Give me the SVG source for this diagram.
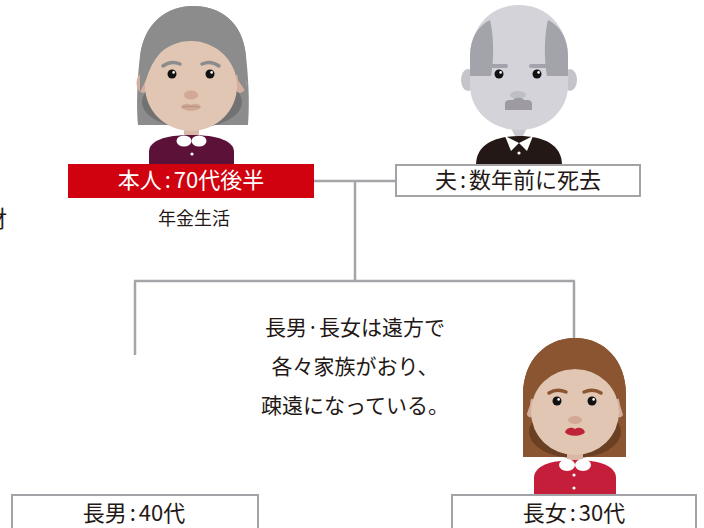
<svg xmlns="http://www.w3.org/2000/svg" width="704" height="528" viewBox="0 0 704 528">
  <style>
    .txt { font-family: "Noto Sans CJK JP", "Noto Sans", sans-serif; fill: #231815; }
    .lbl { font-size: 22px; text-anchor: middle; }
    .note { font-size: 21px; text-anchor: middle; }
    .box { fill: #ffffff; stroke: #a2a2a7; stroke-width: 2; }
    .link { fill: none; stroke: #a4a4a9; stroke-width: 2.5; }
    .eye { fill: #111111; }
    .hl { fill: #ffffff; }
    .skin { fill: #e0c6b3; }
    .ear { fill: #d4ae9e; }
    .nose { fill: #d3a896; }
    .white { fill: #ffffff; }
  </style>

  <!-- partially visible character at the left edge -->
  <text class="txt" x="-16" y="227" font-size="23">財</text>

  <!-- connectors -->
  <g id="connectors">
    <path class="link" d="M314,181 H396"/>
    <path class="link" d="M355,181 V281"/>
    <path class="link" d="M134,281 H575"/>
    <path class="link" d="M135,281 V355"/>
    <path class="link" d="M574,281 V495"/>
  </g>

  <!-- self: grandmother -->
  <g id="self">
    <path d="M138,125 C136,100 138,72 140,56 C145,22 168,6 193,6 C220,6 243,22 246,56 C248,75 250,100 248,125 Z" fill="#8c8c8c"/>
    <ellipse cx="192" cy="102" rx="50" ry="26" fill="#727272"/>
    <ellipse class="ear" cx="143" cy="83" rx="6.5" ry="10"/>
    <ellipse class="ear" cx="240" cy="83" rx="6.5" ry="10"/>
    <rect x="184" y="122" width="15" height="18" fill="#d9b8a5"/>
    <ellipse class="skin" cx="191" cy="86" rx="46" ry="45"/>
    <path d="M140,92 L140,58 C143,22 168,6 193,6 C220,6 244,22 246,58 L246,92 L238,80 C236,56 222,38 200,33 C192,32 186,34 180,38 C166,44 152,58 146,80 Z" fill="#8c8c8c"/>
    <path d="M163,66 Q171,60 180,64" stroke="#8c8c8c" stroke-width="3.5" fill="none" stroke-linecap="round"/>
    <path d="M202,64 Q211,60 219,66" stroke="#8c8c8c" stroke-width="3.5" fill="none" stroke-linecap="round"/>
    <circle class="eye" cx="172" cy="74" r="4.5"/>
    <circle class="hl" cx="173.6" cy="72.4" r="1.3"/>
    <circle class="eye" cx="210" cy="74" r="4.5"/>
    <circle class="hl" cx="211.6" cy="72.4" r="1.3"/>
    <ellipse class="nose" cx="191" cy="95" rx="7" ry="4.5"/>
    <path d="M181,107 C183,103 188,103 191,105 C194,103 199,103 201,107 C198,112 184,112 181,107 Z" fill="#cfa795"/>
    <path d="M182,107 Q191,105.5 200,107" stroke="#b8907e" stroke-width="1" fill="none"/>
    <path d="M149,165 L149,152 C149,141 164,135 191,135 C218,135 234,141 234,152 L234,165 Z" fill="#5c1138"/>
    <ellipse class="white" cx="184" cy="141" rx="7.5" ry="5.5"/>
    <ellipse class="white" cx="199" cy="141" rx="7.5" ry="5.5"/>
    <circle class="white" cx="192" cy="154" r="1.6"/>
    <rect x="68" y="164" width="246" height="34" fill="#d0020f"/>
    <text class="txt lbl" x="191" y="188" style="fill:#ffffff">本人<tspan dx="3">:</tspan><tspan dx="3">70代後半</tspan></text>
    <text class="txt" x="194" y="225" font-size="18" text-anchor="middle">年金生活</text>
  </g>

  <!-- husband -->
  <g id="husband">
    <ellipse cx="468" cy="80" rx="7" ry="11" fill="#c4c4ca"/>
    <ellipse cx="570" cy="80" rx="7" ry="11" fill="#c4c4ca"/>
    <polygon points="510,126 528,126 519,144" fill="#c8c8ce"/>
    <path d="M470,60 C470,25 492,5 519,5 C546,5 568,25 568,60 L568,85 C568,112 545,130 519,130 C493,130 470,112 470,85 Z" fill="#d3d3d9"/>
    <path d="M470,76 L470,56 C470,38 478,26 490,20 C494,36 494,60 491,76 Z" fill="#a3a3ab"/>
    <path d="M568,76 L568,56 C568,38 560,26 548,20 C544,36 544,60 547,76 Z" fill="#a3a3ab"/>
    <rect x="487" y="64" width="21" height="4" rx="2" fill="#a3a3ab"/>
    <rect x="529" y="64" width="21" height="4" rx="2" fill="#a3a3ab"/>
    <circle class="eye" cx="499" cy="74" r="4.5"/>
    <circle class="hl" cx="500.6" cy="72.4" r="1.3"/>
    <circle class="eye" cx="537" cy="74" r="4.5"/>
    <circle class="hl" cx="538.6" cy="72.4" r="1.3"/>
    <ellipse cx="518" cy="95" rx="8" ry="4" fill="#bebec5"/>
    <path d="M505,110 L505,104 C505,101 507,100 510,100 L513,100 C514,97 523,97 524,100 L527,100 C530,100 532,101 532,104 L532,110 Z" fill="#9d9ba1"/>
    <path d="M476,165 C476,145 494,136 519,136 C544,136 562,145 562,165 Z" fill="#231815"/>
    <polygon class="white" points="505,136 519,143 511,151"/>
    <polygon class="white" points="533,136 519,143 527,151"/>
    <circle class="white" cx="519" cy="153" r="1.6"/>
    <rect class="box" x="396" y="165" width="244" height="31"/>
    <text class="txt lbl" x="518" y="188">夫<tspan dx="3">:</tspan><tspan dx="3">数年前に死去</tspan></text>
  </g>

  <!-- note between the generations -->
  <g id="note">
    <text class="txt note" x="355" y="335">長男·長女は遠方で</text>
    <text class="txt note" x="355" y="374">各々家族がおり、</text>
    <text class="txt note" x="355" y="413">疎遠になっている。</text>
  </g>

  <!-- eldest son -->
  <g id="son">
    <rect class="box" x="12" y="495" width="246" height="45"/>
    <text class="txt lbl" x="134" y="521">長男<tspan dx="3">:</tspan><tspan dx="3">40代</tspan></text>
  </g>

  <!-- eldest daughter -->
  <g id="daughter">
    <path d="M523,457 L523,395 C523,360 546,338 575,338 C604,338 626,360 626,395 L626,457 Z" fill="#8b5532"/>
    <ellipse cx="575" cy="432" rx="46" ry="26" fill="#6b3f22"/>
    <ellipse class="ear" cx="531" cy="408" rx="6" ry="9.5"/>
    <ellipse class="ear" cx="619" cy="408" rx="6" ry="9.5"/>
    <rect x="567" y="448" width="16" height="16" fill="#d9b8a5"/>
    <ellipse class="skin" cx="575" cy="412" rx="44" ry="43"/>
    <path d="M523,425 L523,395 C523,360 546,338 575,338 C604,338 626,360 626,395 L626,425 L620,405 C618,385 600,369 575,369 C550,369 532,385 530,405 Z" fill="#8b5532"/>
    <path d="M549,393 Q557,388 566,392" stroke="#8b5532" stroke-width="3.5" fill="none" stroke-linecap="round"/>
    <path d="M584,392 Q593,388 601,393" stroke="#8b5532" stroke-width="3.5" fill="none" stroke-linecap="round"/>
    <circle class="eye" cx="557" cy="401" r="4.5"/>
    <circle class="hl" cx="558.6" cy="399.4" r="1.3"/>
    <circle class="eye" cx="592" cy="401" r="4.5"/>
    <circle class="hl" cx="593.6" cy="399.4" r="1.3"/>
    <ellipse class="nose" cx="575" cy="420" rx="7" ry="4"/>
    <path d="M565,432 C567,427 572,427 575,429 C578,427 583,427 585,432 C582,437 568,437 565,432 Z" fill="#c0223a"/>
    <path d="M534,495 L534,478 C534,466 550,460 575,460 C600,460 616,466 616,478 L616,495 Z" fill="#c41e3a"/>
    <ellipse class="white" cx="567" cy="465" rx="8" ry="6"/>
    <ellipse class="white" cx="583" cy="465" rx="8" ry="6"/>
    <circle class="white" cx="574" cy="475" r="1.6"/>
    <circle class="white" cx="574" cy="488" r="1.6"/>
    <rect class="box" x="452" y="495" width="244" height="45"/>
    <text class="txt lbl" x="574" y="521">長女<tspan dx="3">:</tspan><tspan dx="3">30代</tspan></text>
  </g>
</svg>
